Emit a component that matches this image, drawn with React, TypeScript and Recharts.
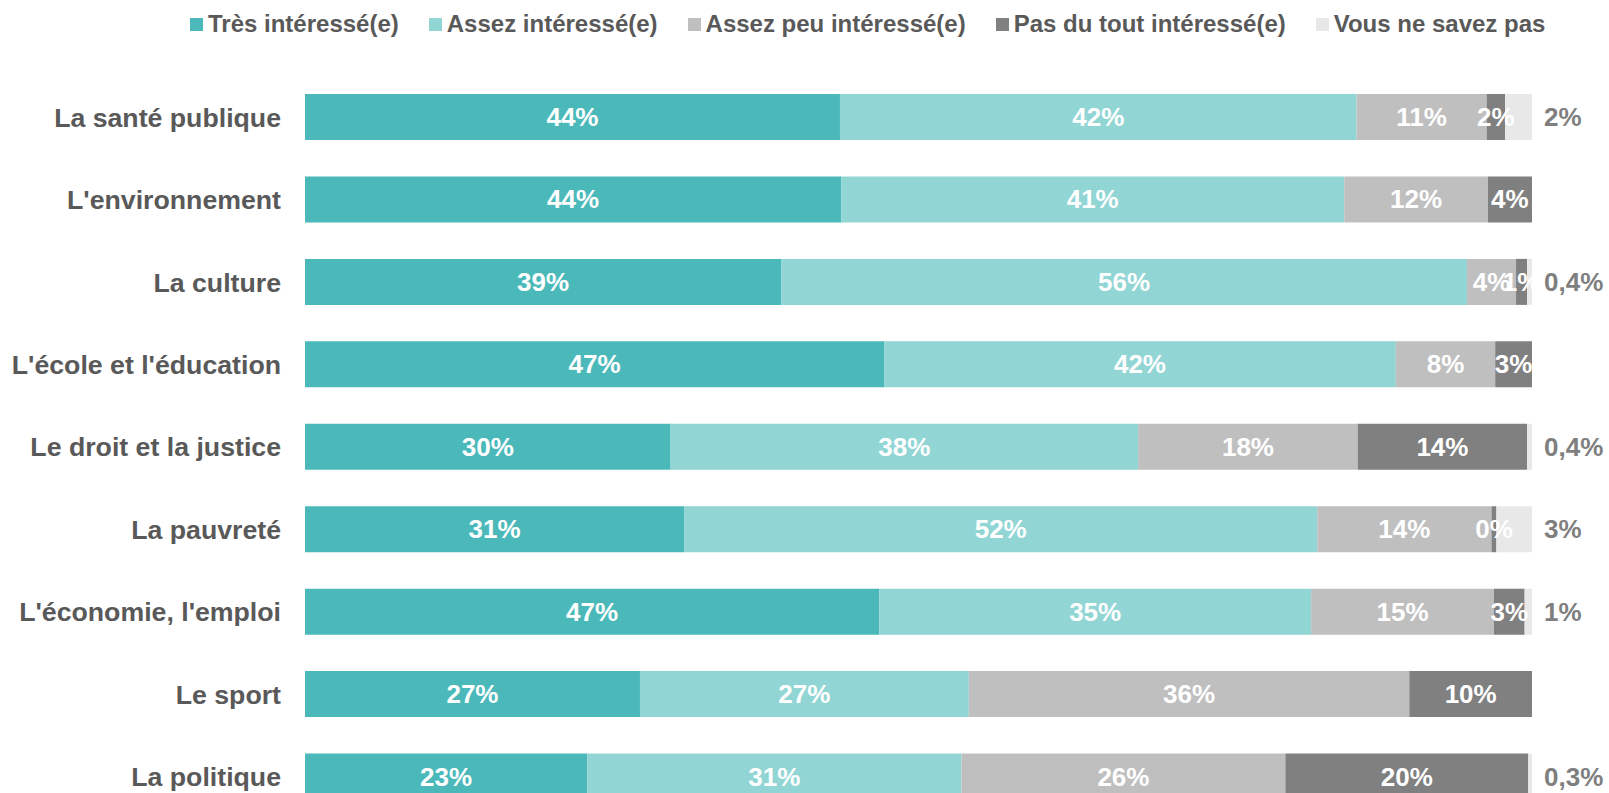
import React from "react";
import { BarChart, Bar, XAxis, YAxis, LabelList } from "recharts";

const categories = [
  "La santé publique",
  "L'environnement",
  "La culture",
  "L'école et l'éducation",
  "Le droit et la justice",
  "La pauvreté",
  "L'économie, l'emploi",
  "Le sport",
  "La politique",
];

const tresInteresse = [43.6, 43.7, 38.8, 47.2, 29.8, 30.9, 46.8, 27.3, 23.0];
const assezInteresse = [42.1, 41.0, 55.9, 41.7, 38.1, 51.6, 35.2, 26.8, 30.5];
const assezPeuInteresse = [10.6, 11.7, 4.0, 8.1, 17.9, 14.2, 14.9, 35.9, 26.4];
const pasDuToutInteresse = [1.5, 3.6, 0.9, 3.0, 13.8, 0.4, 2.5, 10.0, 19.8];
const vousNeSavezPas = [2.2, 0, 0.4, 0, 0.4, 2.9, 0.6, 0, 0.3];

const seriesNames = [
  "Très intéressé(e)",
  "Assez intéressé(e)",
  "Assez peu intéressé(e)",
  "Pas du tout intéressé(e)",
  "Vous ne savez pas",
];
const seriesKeys = ["tres", "assez", "assezPeu", "pasDuTout", "nsp"];
const seriesColors = ["#4BB9BA", "#92D5D5", "#BFBFBF", "#808080", "#E8E8E8"];

const data = categories.map((name, i) => ({
  name,
  tres: tresInteresse[i],
  assez: assezInteresse[i],
  assezPeu: assezPeuInteresse[i],
  pasDuTout: pasDuToutInteresse[i],
  nsp: vousNeSavezPas[i],
}));

const FONT = "'Liberation Sans', Arial, Helvetica, sans-serif";

const insideLabel = (props: any) => {
  const { x, y, width, height, value } = props;
  if (!value) return null;
  return (
    <text
      x={x + width / 2}
      y={y + height / 2}
      textAnchor="middle"
      dominantBaseline="central"
      fill="#FFFFFF"
      fontSize={26}
      fontWeight="bold"
      fontFamily={FONT}
    >
      {Math.round(value) + "%"}
    </text>
  );
};

const outsideLabel = (props: any) => {
  const { x, y, width, height, value } = props;
  if (!value) return null;
  const txt =
    value < 0.5 ? value.toFixed(1).replace(".", ",") + "%" : Math.round(value) + "%";
  return (
    <text
      x={x + width + 12}
      y={y + height / 2}
      textAnchor="start"
      dominantBaseline="central"
      fill="#7F7F7F"
      fontSize={26}
      fontWeight="bold"
      fontFamily={FONT}
    >
      {txt}
    </text>
  );
};

export default function App() {
  return (
    <div
      style={{
        position: "fixed",
        left: 0,
        top: 0,
        width: 1609,
        height: 793,
        overflow: "hidden",
        background: "#FFFFFF",
        fontFamily: FONT,
      }}
    >
      <div
        style={{
          position: "absolute",
          left: 190,
          top: 8,
          height: 32,
          display: "flex",
          alignItems: "center",
          whiteSpace: "nowrap",
        }}
      >
        {seriesNames.map((n, i) => (
          <div
            key={n}
            style={{ display: "flex", alignItems: "center", marginRight: 30 }}
          >
            <span
              style={{
                display: "inline-block",
                width: 13,
                height: 13,
                background: seriesColors[i],
                marginRight: 5,
              }}
            />
            <span
              style={{
                fontSize: 24,
                fontWeight: "bold",
                color: "#595959",
                lineHeight: "32px",
              }}
            >
              {n}
            </span>
          </div>
        ))}
      </div>
      <BarChart
        width={1609}
        height={830}
        data={data}
        layout="vertical"
        margin={{ top: 76, right: 77, bottom: 12, left: 0 }}
        barSize={46}
      >
        <XAxis type="number" domain={[0, 100]} hide />
        <YAxis
          type="category"
          dataKey="name"
          width={305}
          axisLine={false}
          tickLine={false}
          tickSize={0}
          tickMargin={24}
          interval={0}
          tick={{ fill: "#595959", fontSize: 26.7, fontWeight: "bold", fontFamily: FONT }}
        />
        {seriesKeys.map((k, i) => (
          <Bar
            key={k}
            dataKey={k}
            name={seriesNames[i]}
            stackId="a"
            fill={seriesColors[i]}
            isAnimationActive={false}
          >
            <LabelList
              dataKey={k}
              content={i === 4 ? outsideLabel : insideLabel}
            />
          </Bar>
        ))}
      </BarChart>
    </div>
  );
}
